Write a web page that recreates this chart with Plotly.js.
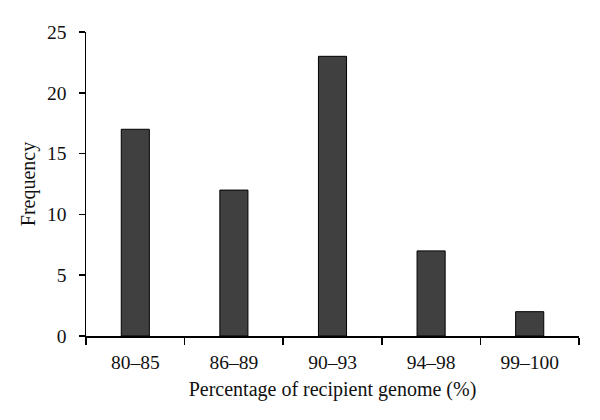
<!DOCTYPE html>
<html>
<head>
<meta charset="utf-8">
<script src="https://cdn.plot.ly/plotly-3.0.1.min.js"></script>
<style>
  body { margin: 0; background: #fff; }
  #chart { width: 600px; height: 420px; }
</style>
</head>
<body>
<div id="chart"></div>
<script>
// Frequency histogram of recipient genome percentage

var ranges = ['80\u201385', '86\u201389', '90\u201393', '94\u201398', '99\u2013100'];
var frequency = [17, 12, 23, 7, 2];
var yTicks = [0, 5, 10, 15, 20, 25];

var font_family = 'Liberation Serif, DejaVu Serif, serif';

var trace = {
	type: 'bar',
	x: ranges,
	y: frequency,
	marker: {
		color: '#404040',
		line: { color: '#000', width: 1 }
	},
	hoverinfo: 'none'
};

var layout = {
	width: 600,
	height: 420,
	margin: { l: 86, r: 21, t: 32, b: 84 },
	paper_bgcolor: '#fff',
	plot_bgcolor: '#fff',
	bargap: 0.715,
	showlegend: false,
	font: { family: font_family, size: 19.5, color: '#111' },
	xaxis: {
		type: 'category',
		showline: true,
		linecolor: '#000',
		linewidth: 1.5,
		ticks: 'outside',
		tickson: 'boundaries',
		ticklen: 7,
		tickwidth: 1.5,
		tickcolor: '#000',
		showgrid: false,
		zeroline: false,
		ticklabelstandoff: 8,
		title: { text: 'Percentage of recipient genome (%)', standoff: 10, font: { size: 20 } }
	},
	yaxis: {
		range: [0, 25],
		tickvals: yTicks,
		showline: true,
		linecolor: '#000',
		linewidth: 1.5,
		ticks: 'outside',
		ticklen: 6,
		tickwidth: 1.5,
		tickcolor: '#000',
		showgrid: false,
		zeroline: false,
		ticklabelstandoff: 8,
		title: { text: 'Frequency', standoff: 6, font: { size: 20 } }
	}
};

Plotly.newPlot('chart', [trace], layout, { displayModeBar: false, staticPlot: true });
</script>
</body>
</html>
